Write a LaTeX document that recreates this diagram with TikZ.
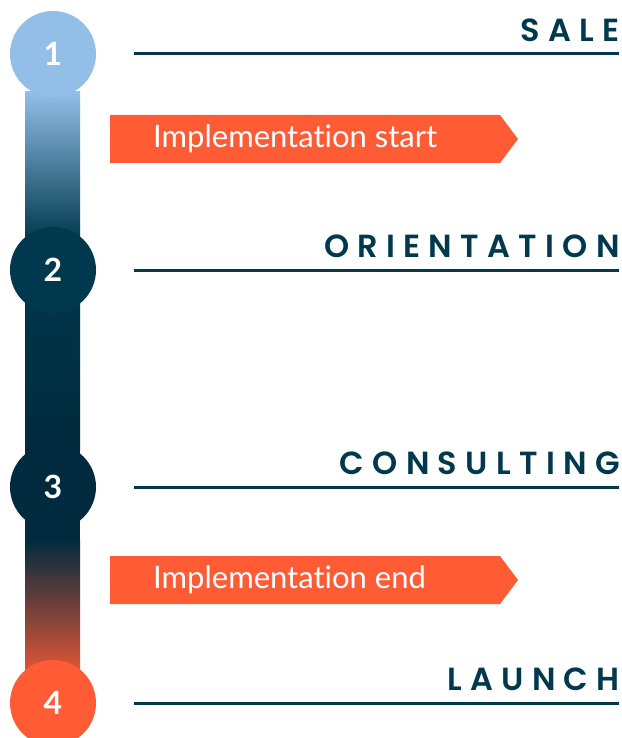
\documentclass[tikz,border=0pt]{standalone}
\usepackage{fontspec}
\setmainfont{Lato}[Ligatures=NoCommon]
\newfontfamily\headfont{Poppins SemiBold}[LetterSpace=26]
\usetikzlibrary{positioning}

\definecolor{hsdark}{HTML}{00394D}
\definecolor{hsdeep}{HTML}{012A3E}
\definecolor{hsblue}{HTML}{92BEE8}
\definecolor{hsorange}{HTML}{FF5C35}

\begin{document}
\begin{tikzpicture}[x=1pt, y=-1pt,
    step circle/.style={circle, minimum size=86pt, inner sep=0pt, text=white, font=\bfseries\fontsize{32}{32}\selectfont},
    heading/.style={anchor=base east, inner sep=0pt, text=hsdark, font=\headfont\fontsize{32}{32}\selectfont},
    banner text/.style={anchor=west, inner sep=0pt, text=white, font=\fontsize{31}{31}\selectfont},
    rule/.style={draw=hsdark, line width=3pt}]
    \useasboundingbox (0,0) rectangle (621,738);

    % the bar
    \begin{scope}
      \shade[top color=hsblue, bottom color=hsdark] (25,92) rectangle (80,240);
      \shade[top color=hsdark, bottom color=hsdeep] (25,239) rectangle (80,450);
      \fill[hsdeep] (25,449) rectangle (80,541);
      \shade[top color=hsdeep, bottom color=hsorange] (25,540) rectangle (80,690);
    \end{scope}

    % steps
    \begin{scope}
      \node [step circle, fill=hsblue] (c1) at (53,54) {1};
      \node [step circle, fill=hsdark] (c2) at (53,270) {2};
      \node [step circle, fill=hsdeep] (c3) at (53,487) {3};
      \node [step circle, fill=hsorange] (c4) at (53,703) {4};
    \end{scope}

    % headings and rules
    \begin{scope}
      \node [heading] (h1) at (620,42) {SALE};
      \node [heading] (h2) at (620,257) {ORIENTATION};
      \node [heading] (h3) at (620,474) {CONSULTING};
      \node [heading] (h4) at (620,690) {LAUNCH};

      \coordinate (l1) at (134,54);  \coordinate (r1) at (619,54);
      \coordinate (l2) at (134,270); \coordinate (r2) at (619,270);
      \coordinate (l3) at (134,487); \coordinate (r3) at (619,487);
      \coordinate (l4) at (134,703); \coordinate (r4) at (619,703);
      \draw [rule] (l1) -- (r1);
      \draw [rule] (l2) -- (r2);
      \draw [rule] (l3) -- (r3);
      \draw [rule] (l4) -- (r4);
    \end{scope}

    % banners
    \begin{scope}
      \fill [hsorange] (110,115) -- (500,115) -- (518,139) -- (500,163) -- (110,163) -- cycle;
      \node [banner text] (b1) at (153,139) {Implementation start};
      \fill [hsorange] (110,556) -- (500,556) -- (518,580) -- (500,604) -- (110,604) -- cycle;
      \node [banner text] (b2) at (153,580) {Implementation end};
    \end{scope}
\end{tikzpicture}
\end{document}
